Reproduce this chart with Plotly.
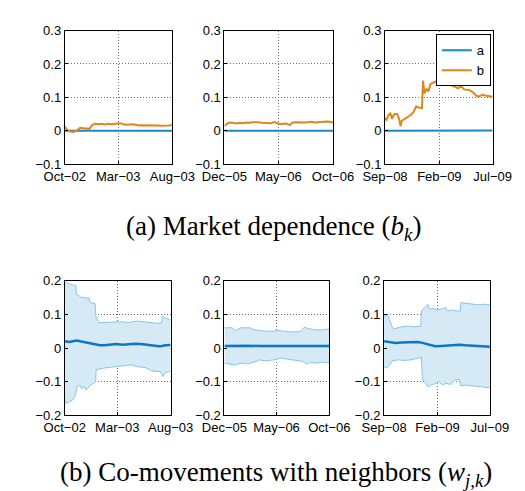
import numpy as np
import pandas as pd
import plotly.graph_objects as go

# ---------------- data ----------------
win_start = ["2002-10-01", "2005-12-01", "2008-09-01"]
win_mid = ["2003-03-01", "2006-05-01", "2009-02-01"]
win_end = ["2003-08-01", "2006-10-01", "2009-07-01"]
win_labels = [["Oct\u221202", "Mar\u221203", "Aug\u221203"],
              ["Dec\u221205", "May\u221206", "Oct\u221206"],
              ["Sep\u221208", "Feb\u221209", "Jul\u221209"]]

# (a) market dependence: series a (flat) and b
a_days = [[0, 76, 152, 228, 304], [0, 76, 152, 228, 304], [0, 76, 152, 228, 303]]
a_vals = [[0.000, 0.000, 0.000, 0.000, 0.000],
          [0.000, 0.000, 0.000, 0.000, 0.000],
          [0.000, 0.000, 0.001, 0.001, 0.001]]

b1_vals = [0.013, 0.000, -0.002, -0.003, 0.002, 0.009, 0.008, 0.006, 0.006, 0.018,
           0.021, 0.020, 0.021, 0.019, 0.021, 0.020, 0.021, 0.022, 0.023, 0.020,
           0.018, 0.019, 0.020, 0.018, 0.016, 0.017, 0.017, 0.018, 0.017, 0.017,
           0.016, 0.015, 0.015, 0.015, 0.016, 0.018]
b2_vals = [0.015, 0.022, 0.025, 0.024, 0.022, 0.024, 0.023, 0.025, 0.024, 0.026,
           0.027, 0.026, 0.024, 0.023, 0.022, 0.023, 0.026, 0.023, 0.020, 0.021,
           0.022, 0.017, 0.025, 0.026, 0.025, 0.024, 0.025, 0.026, 0.027, 0.025,
           0.026, 0.028, 0.029, 0.028, 0.027, 0.025]
b3_days = [0, 4, 10, 15, 20, 23, 28, 34, 39, 44, 47, 56, 64, 73, 81, 88, 94, 104,
           107, 111, 117, 122, 128, 135, 141, 148, 154, 163, 171, 180, 188, 197,
           205, 214, 223, 231, 240, 248, 257, 265, 274, 282, 291, 303]
b3_vals = [0.038, 0.033, 0.048, 0.052, 0.036, 0.045, 0.051, 0.050, 0.038, 0.014,
           0.030, 0.036, 0.040, 0.048, 0.057, 0.073, 0.070, 0.068, 0.150, 0.112,
           0.126, 0.118, 0.140, 0.145, 0.147, 0.140, 0.145, 0.145, 0.142, 0.140,
           0.135, 0.132, 0.127, 0.133, 0.124, 0.123, 0.121, 0.115, 0.105, 0.103,
           0.108, 0.106, 0.104, 0.102]

# (b) co-movements with neighbours: mean and band
w1_up_days = [0, 4, 13, 26, 32, 33, 48, 70, 73, 87, 90, 100, 122, 157, 183, 210, 236, 266, 278, 280, 288, 304]
w1_up = [0.190, 0.195, 0.190, 0.185, 0.185, 0.160, 0.150, 0.148, 0.135, 0.132, 0.090,
         0.075, 0.077, 0.078, 0.076, 0.080, 0.077, 0.073, 0.075, 0.095, 0.090, 0.082]
w1_lo_days = [0, 4, 13, 22, 31, 35, 44, 48, 57, 61, 66, 74, 83, 89, 90, 96, 109, 140,
              179, 192, 205, 231, 240, 249, 275, 282, 287, 304]
w1_lo = [-0.150, -0.165, -0.160, -0.155, -0.140, -0.115, -0.110, -0.120, -0.115, -0.125,
         -0.120, -0.110, -0.105, -0.100, -0.065, -0.063, -0.060, -0.056, -0.052, -0.050,
         -0.055, -0.058, -0.062, -0.068, -0.070, -0.085, -0.075, -0.068]
w1_mid_days = [0, 13, 22, 35, 44, 57, 70, 87, 101, 114, 131, 149, 166, 183, 201, 218,
               236, 253, 271, 280, 288, 304]
w1_mid = [0.020, 0.018, 0.020, 0.022, 0.020, 0.017, 0.015, 0.012, 0.008, 0.008, 0.010,
          0.012, 0.010, 0.012, 0.013, 0.012, 0.010, 0.006, 0.005, 0.006, 0.008, 0.009]

w2_up_days = [0, 13, 22, 31, 48, 74, 83, 101, 118, 145, 153, 171, 188, 215, 223, 232,
              241, 258, 276, 293, 304]
w2_up = [0.060, 0.060, 0.060, 0.052, 0.060, 0.060, 0.055, 0.052, 0.050, 0.050, 0.052,
         0.050, 0.048, 0.048, 0.052, 0.062, 0.058, 0.055, 0.053, 0.055, 0.057]
w2_lo_days = [0, 13, 31, 48, 66, 92, 101, 118, 145, 162, 180, 197, 215, 228, 237, 250,
              267, 285, 304]
w2_lo = [-0.045, -0.048, -0.050, -0.045, -0.047, -0.040, -0.035, -0.038, -0.035, -0.030,
         -0.033, -0.035, -0.038, -0.040, -0.048, -0.042, -0.045, -0.042, -0.045]
w2_mid_days = [0, 39, 66, 101, 153, 197, 223, 258, 304]
w2_mid = [0.006, 0.007, 0.007, 0.006, 0.006, 0.007, 0.008, 0.007, 0.006]

w3_up_days = [0, 5, 11, 17, 24, 29, 37, 51, 68, 85, 105, 107, 116, 125, 129, 138, 155,
              164, 177, 181, 194, 207, 218, 220, 233, 251, 268, 286, 303]
w3_up = [0.090, 0.100, 0.095, 0.080, 0.060, 0.057, 0.060, 0.063, 0.065, 0.063, 0.065,
         0.110, 0.120, 0.130, 0.115, 0.118, 0.113, 0.115, 0.120, 0.110, 0.113, 0.110,
         0.110, 0.135, 0.133, 0.132, 0.128, 0.130, 0.128]
w3_lo_days = [0, 7, 16, 24, 42, 59, 77, 94, 107, 110, 116, 125, 133, 142, 155, 168,
              177, 190, 203, 216, 219, 233, 251, 277, 303]
w3_lo = [-0.055, -0.060, -0.050, -0.038, -0.035, -0.037, -0.035, -0.030, -0.028, -0.095,
         -0.100, -0.115, -0.110, -0.108, -0.100, -0.110, -0.105, -0.108, -0.095, -0.093,
         -0.112, -0.110, -0.112, -0.113, -0.118]
w3_mid_days = [0, 16, 33, 51, 68, 94, 107, 129, 146, 164, 190, 216, 233, 260, 286, 303]
w3_mid = [0.020, 0.018, 0.015, 0.016, 0.017, 0.018, 0.016, 0.010, 0.005, 0.006, 0.008,
          0.010, 0.008, 0.006, 0.005, 0.004]

top_yticks = [-0.1, 0, 0.1, 0.2, 0.3]
top_ytext = ["\u22120.1", "0", "0.1", "0.2", "0.3"]
bot_yticks = [-0.2, -0.1, 0, 0.1, 0.2]
bot_ytext = ["\u22120.2", "\u22120.1", "0", "0.1", "0.2"]

caption_a = "(a) Market dependence (<i>b<sub>k</sub></i>)"
caption_b = "(b) Co-movements with neighbors (<i>w<sub>j,k</sub></i>)"

# ---------------- styling ----------------
C_A = "#1a86cf"
C_B = "#e0861a"
C_MID = "#0a78c4"
C_EDGE = "#86c4ec"
C_FILL = "rgba(214,234,246,1)"

W, H = 525, 491
top_x = [(37, 155), (212, 331), (388, 506)]
bot_x = [(37, 153), (212, 327), (387, 503)]
top_y = (16, 154)
bot_y = (274, 413)


def xd(px):
    return [px[0] / W, px[1] / W]


def yd(py):
    return [1 - py[1] / H, 1 - py[0] / H]


def dates(start, days):
    return pd.Timestamp(start) + pd.to_timedelta(np.asarray(days), unit="D")


fig = go.Figure()

tick_font = dict(family="Liberation Sans, Arial, sans-serif", size=13, color="black")


def axis_common():
    return dict(showline=True, linecolor="black", linewidth=1, mirror=True,
                showgrid=True, gridcolor="#6e6e6e", gridwidth=1, griddash="1px,2px",
                ticks="inside", ticklen=3, tickcolor="black", zeroline=False,
                tickfont=tick_font, fixedrange=True)


b_days = [list(np.linspace(0, 304, 36)), list(np.linspace(0, 304, 36)), b3_days]
b_vals = [b1_vals, b2_vals, b3_vals]
w_sets = [(w1_up_days, w1_up, w1_lo_days, w1_lo, w1_mid_days, w1_mid),
          (w2_up_days, w2_up, w2_lo_days, w2_lo, w2_mid_days, w2_mid),
          (w3_up_days, w3_up, w3_lo_days, w3_lo, w3_mid_days, w3_mid)]

for i in range(3):
    ti, bi = i + 1, i + 4
    tx = "x" if ti == 1 else f"x{ti}"
    ty = "y" if ti == 1 else f"y{ti}"
    bx, by = f"x{bi}", f"y{bi}"
    st = win_start[i]

    fig.add_trace(go.Scatter(x=dates(st, a_days[i]), y=a_vals[i], mode="lines",
                             line=dict(color=C_A, width=2), name="a",
                             showlegend=(i == 2), xaxis=tx, yaxis=ty))
    fig.add_trace(go.Scatter(x=dates(st, b_days[i]), y=b_vals[i], mode="lines",
                             line=dict(color=C_B, width=2), name="b",
                             showlegend=(i == 2), xaxis=tx, yaxis=ty))

    ud, uv, ld, lv, md, mv = w_sets[i]
    poly_x = list(dates(st, ud)) + list(dates(st, ld))[::-1]
    poly_y = list(uv) + list(lv)[::-1]
    fig.add_trace(go.Scatter(x=poly_x, y=poly_y, mode="none", fill="toself",
                             fillcolor=C_FILL, showlegend=False, hoverinfo="skip",
                             xaxis=bx, yaxis=by))
    fig.add_trace(go.Scatter(x=dates(st, ud), y=uv, mode="lines",
                             line=dict(color=C_EDGE, width=1), showlegend=False,
                             xaxis=bx, yaxis=by))
    fig.add_trace(go.Scatter(x=dates(st, ld), y=lv, mode="lines",
                             line=dict(color=C_EDGE, width=1), showlegend=False,
                             xaxis=bx, yaxis=by))
    fig.add_trace(go.Scatter(x=dates(st, md), y=mv, mode="lines",
                             line=dict(color=C_MID, width=2.5), showlegend=False,
                             xaxis=bx, yaxis=by))

    xcommon = dict(type="date", range=[win_start[i], win_end[i]],
                   tickmode="array", tickvals=[win_start[i], win_mid[i], win_end[i]],
                   ticktext=win_labels[i])
    kx_t = "xaxis" if ti == 1 else f"xaxis{ti}"
    ky_t = "yaxis" if ti == 1 else f"yaxis{ti}"
    fig.layout[kx_t] = dict(**axis_common(), **xcommon, domain=xd(top_x[i]), anchor=ty)
    fig.layout[ky_t] = dict(**axis_common(), range=[-0.1, 0.3], tickmode="array",
                            tickvals=top_yticks, ticktext=top_ytext,
                            domain=yd(top_y), anchor=tx)
    fig.layout[f"xaxis{bi}"] = dict(**axis_common(), **xcommon, domain=xd(bot_x[i]), anchor=by)
    fig.layout[f"yaxis{bi}"] = dict(**axis_common(), range=[-0.2, 0.2], tickmode="array",
                                    tickvals=bot_yticks, ticktext=bot_ytext,
                                    domain=yd(bot_y), anchor=bx)

cap_font = dict(family="Liberation Serif, DejaVu Serif, serif", size=27, color="black")
fig.add_annotation(text=caption_a, xref="paper", yref="paper", x=266 / W, y=1 - 220 / H,
                   showarrow=False, xanchor="center", yanchor="middle", font=cap_font)
fig.add_annotation(text=caption_b, xref="paper", yref="paper", x=268 / W, y=1 - 473 / H,
                   showarrow=False, xanchor="center", yanchor="middle", font=cap_font)

fig.update_layout(
    width=W, height=H, margin=dict(l=0, r=0, t=0, b=0),
    paper_bgcolor="white", plot_bgcolor="white",
    showlegend=True,
    legend=dict(x=504 / W, y=1 - 20 / H, xanchor="right", yanchor="top",
                bgcolor="white", bordercolor="black", borderwidth=1,
                font=dict(family="Liberation Sans, Arial, sans-serif", size=13, color="black"),
                itemwidth=30, tracegroupgap=0),
)

fig.write_html("out.html")
